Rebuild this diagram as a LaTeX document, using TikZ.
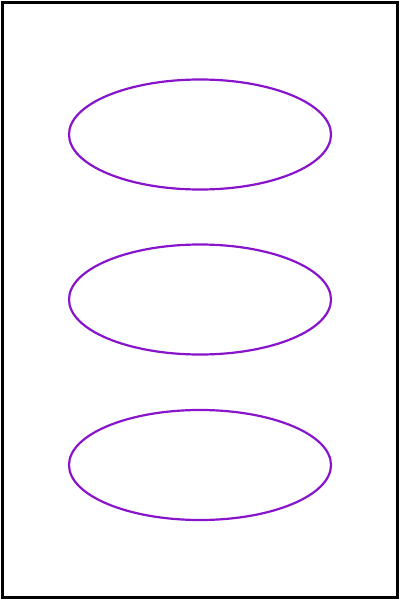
\documentclass[tikz,border=0pt]{standalone}
\usetikzlibrary{shapes.geometric}
\begin{document}
\begin{tikzpicture}[x=1pt,y=-1pt]
\definecolor{ellcol}{RGB}{136,20,204}
\tikzset{frame/.style={draw=black,line width=3.2pt},
  oval/.style={draw=ellcol,line width=2.2pt,ellipse,minimum width=262pt,minimum height=110pt,inner sep=0pt}}
\useasboundingbox (0,0) rectangle (400,600);
\draw[frame] (2.5,2.5) rectangle (397.5,597.5);
\path (200,134.5) node[oval,draw] (e1) {};
\path (200,299.5) node[oval,draw] (e2) {};
\path (200,465) node[oval,draw] (e3) {};
\end{tikzpicture}
\end{document}
